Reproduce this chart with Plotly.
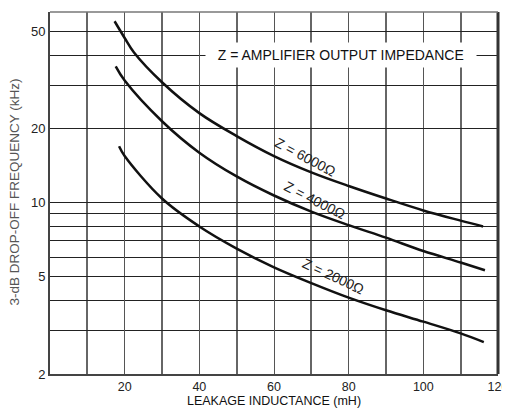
import math
import plotly.graph_objects as go

# Leakage inductance (mH) and 3-dB drop-off frequency (kHz) for each Z
x6000 = [17.3, 20, 22.5, 30, 40, 50, 60, 70, 80, 90, 100, 110, 116]
y6000 = [55, 47, 41, 31, 23.2, 18.7, 15.5, 13.3, 11.7, 10.4, 9.3, 8.45, 8.0]

x4000 = [17.6, 20, 30, 40, 50, 60, 70, 80, 90, 100, 110, 116.5]
y4000 = [36, 31.5, 21.5, 16, 12.8, 10.7, 9.2, 8.1, 7.2, 6.35, 5.7, 5.3]

x2000 = [18.5, 20, 30, 40, 50, 60, 70, 80, 90, 100, 110, 116.2]
y2000 = [17.0, 15.5, 10.4, 8.0, 6.5, 5.45, 4.7, 4.1, 3.64, 3.27, 2.93, 2.7]

x_ticks = [20, 40, 60, 80, 100, 120]
x_minor = [10, 30, 50, 70, 90, 110]
y_ticks = [2, 5, 10, 20, 50]
y_minor = [3, 4, 6, 7, 8, 9, 30, 40]

curve_labels = ["Z = 6000Ω", "Z = 4000Ω", "Z = 2000Ω"]
label_x = [68.4, 70.9, 75.8]
label_y = [15.3, 10.3, 5.0]
label_angle = [28, 27, 25]

FONT = "Liberation Sans, Arial, sans-serif"

fig = go.Figure()
for xs, ys in [(x6000, y6000), (x4000, y4000), (x2000, y2000)]:
    fig.add_trace(go.Scatter(x=xs, y=ys, mode="lines",
                             line=dict(color="#111111", width=2.5, shape="spline", smoothing=1.0),
                             showlegend=False, hoverinfo="skip"))

# annotations on a log axis take log10 coordinates
for t, lx, ly, a in zip(curve_labels, label_x, label_y, label_angle):
    fig.add_annotation(x=lx, y=math.log10(ly), yref="y", xref="x", text=t, showarrow=False,
                       textangle=a, font=dict(family=FONT, size=14, color="#222"))

fig.add_annotation(x=77.9, y=math.log10(40),
                   text="&nbsp;&nbsp;Z = AMPLIFIER OUTPUT IMPEDANCE&nbsp;&nbsp;",
                   showarrow=False, bgcolor="white", borderpad=4,
                   font=dict(family=FONT, size=14, color="#111"))

fig.add_annotation(xref="paper", yref="paper", x=-0.079, y=0.503, xanchor="center",
                   yanchor="middle",
                   text="3-dB DROP-OFF FREQUENCY (kHz)", textangle=-90, showarrow=False,
                   font=dict(family=FONT, size=13.5, color="#555"))

fig.update_xaxes(range=[0, 120], tickvals=x_ticks, showgrid=True, gridcolor="#555", gridwidth=1.3,
                 minor=dict(tickvals=x_minor, showgrid=True, gridcolor="#666", gridwidth=1.5),
                 showline=True, linecolor="#444", linewidth=2, mirror=False,
                 zeroline=False, ticks="", automargin=False, ticklabeloverflow="allow",
                 tickfont=dict(family=FONT, size=12.5, color="#222"),
                 title=dict(text="LEAKAGE INDUCTANCE (mH)", standoff=2,
                            font=dict(family=FONT, size=12.5, color="#111")))
fig.update_yaxes(type="log", range=[math.log10(2), math.log10(60)], tickvals=y_ticks,
                 ticktext=[str(v) for v in y_ticks],
                 showgrid=True, gridcolor="#222", gridwidth=1.2,
                 minor=dict(tickvals=y_minor, showgrid=True, gridcolor="#222", gridwidth=1.2),
                 showline=True, linecolor="#444", linewidth=2,
                 zeroline=False, ticks="", automargin=False,
                 tickfont=dict(family=FONT, size=13, color="#222"))

# right thick border and top border
fig.add_shape(type="line", xref="paper", yref="paper", x0=1, x1=1, y0=0, y1=1,
              line=dict(color="#333", width=3))
fig.add_shape(type="line", xref="paper", yref="paper", x0=0, x1=1, y0=1, y1=1,
              line=dict(color="#777", width=1.5))

# page has an 8px body margin, so the figure is sized to fit the 510x411 window
fig.update_layout(width=502, height=403, margin=dict(l=42, r=12, t=4, b=37),
                  paper_bgcolor="white", plot_bgcolor="white",
                  font=dict(family=FONT))
fig.write_html("out.html")
